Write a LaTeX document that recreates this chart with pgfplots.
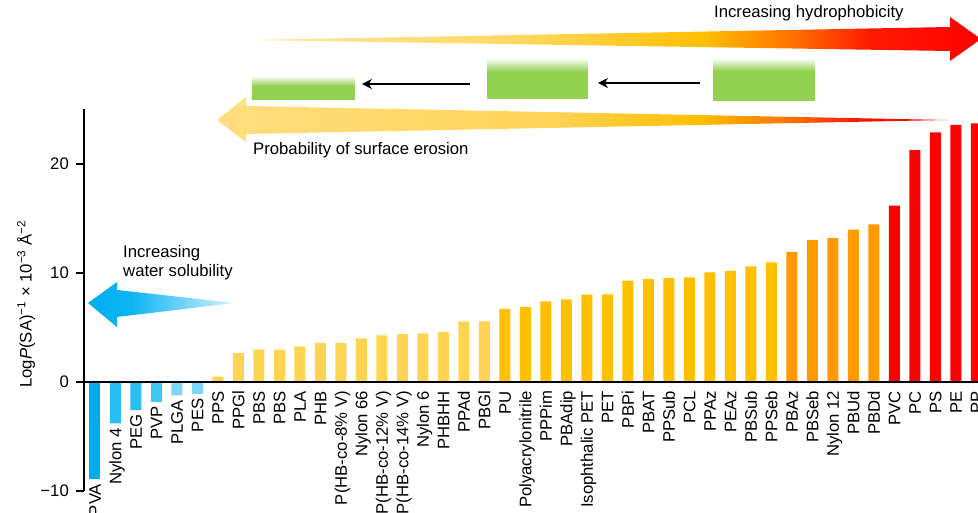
\documentclass[border=0pt]{standalone}
\usepackage{fontspec}
\setmainfont{Liberation Sans}
\usepackage{pgfplots}
\pgfplotsset{compat=1.18}
\usetikzlibrary{arrows.meta}
\definecolor{blueA}{RGB}{0,172,237}
\definecolor{blueB}{RGB}{40,190,241}
\definecolor{blueC}{RGB}{60,199,244}
\definecolor{blueD}{RGB}{125,214,248}
\definecolor{ylight}{RGB}{255,212,82}
\definecolor{gold}{RGB}{255,192,0}
\definecolor{orng}{RGB}{255,153,0}
\definecolor{redd}{RGB}{255,0,0}
\definecolor{grn}{RGB}{146,208,80}
\pgfdeclarehorizontalshading{hydro}{100bp}{rgb(0bp)=(1,0.91,0.62); rgb(25bp)=(1,0.91,0.62); rgb(42.5bp)=(1,0.85,0.40); rgb(56bp)=(1,0.75,0); rgb(62bp)=(1,0.45,0); rgb(67.5bp)=(1,0.1,0); rgb(75bp)=(1,0,0); rgb(100bp)=(1,0,0)}
\pgfdeclarehorizontalshading{erosion}{100bp}{rgb(0bp)=(1,0.87,0.5); rgb(25bp)=(1,0.87,0.5); rgb(47.5bp)=(1,0.83,0.35); rgb(58bp)=(1,0.75,0); rgb(64bp)=(1,0.45,0); rgb(69bp)=(1,0.08,0); rgb(75bp)=(1,0,0); rgb(100bp)=(1,0,0)}
\pgfdeclarehorizontalshading{solub}{100bp}{rgb(0bp)=(0,0.68,0.94); rgb(25bp)=(0,0.68,0.94); rgb(40bp)=(0.05,0.71,0.95); rgb(75bp)=(0.86,0.95,0.99); rgb(100bp)=(0.86,0.95,0.99)}
\newcommand{\myfs}{\fontsize{16.7pt}{18.4pt}\selectfont}
\begin{document}
\begin{tikzpicture}[font=\myfs]
\path[use as bounding box] (0,0) rectangle (978pt,513pt);
\clip (0,0) rectangle (978pt,513pt);
\begin{axis}[
  at={(84pt,22pt)}, anchor=south west, scale only axis,
  width=894pt, height=381.5pt,
  xmin=-0.527, xmax=43.08, ymin=-10, ymax=25,
  axis x line=none, axis y line=left,
  axis line style={-, line width=2.4pt, black},
  ytick={-10,0,10,20}, yticklabels={−10,0,10,20},
  tick align=outside, major tick length=8pt,
  ytick style={line width=2.2pt, black},
  yticklabel style={inner xsep=7pt, font=\myfs, text=black},
  xtick=\empty,
  clip=false,
  ylabel={Log\textit{P}(SA)\textsuperscript{−1} × 10\textsuperscript{−3} Å\textsuperscript{−2}},
  ylabel style={at={(axis description cs:-0.0649,0.49)}, anchor=center, font=\myfs, text=black},
]
\addplot[ybar, bar width=11pt, bar shift=0pt, fill=blueA, draw=none] coordinates {(0,-8.93)};
\addplot[ybar, bar width=11pt, bar shift=0pt, fill=blueB, draw=none] coordinates {(1,-3.80) (2,-2.57)};
\addplot[ybar, bar width=11pt, bar shift=0pt, fill=blueC, draw=none] coordinates {(3,-1.80)};
\addplot[ybar, bar width=11pt, bar shift=0pt, fill=blueD, draw=none] coordinates {(4,-1.22) (5,-1.10)};
\addplot[ybar, bar width=11pt, bar shift=0pt, fill=ylight, draw=none] coordinates {
(6,0.49) (7,2.66) (8,2.97) (9,2.97) (10,3.27) (11,3.56) (12,3.56) (13,4.00)
(14,4.28) (15,4.40) (16,4.46) (17,4.58) (18,5.56) (19,5.56)};
\addplot[ybar, bar width=11pt, bar shift=0pt, fill=gold, draw=none] coordinates {
(20,6.70) (21,6.88) (22,7.40) (23,7.58) (24,8.01) (25,8.03) (26,9.30) (27,9.45)
(28,9.54) (29,9.60) (30,10.06) (31,10.20) (32,10.60) (33,10.98)};
\addplot[ybar, bar width=11pt, bar shift=0pt, fill=orng, draw=none] coordinates {
(34,11.93) (35,13.03) (36,13.20) (37,13.97) (38,14.46)};
\addplot[ybar, bar width=11pt, bar shift=0pt, fill=redd, draw=none] coordinates {
(39,16.18) (40,21.28) (41,22.90) (42,23.60) (43,23.73)};
\draw[line width=2.4pt, black] (axis cs:-0.527,0) -- (axis cs:43.08,0);
\addplot[draw=none, mark=none, nodes near coords, point meta=explicit symbolic,
  nodes near coords style={rotate=90, anchor=east, inner xsep=4.4pt, inner ysep=0pt,
  text height=12pt, text depth=0pt, text=black, font=\myfs}] coordinates {
(0,-8.93) [PVA] (1,-3.80) [Nylon 4] (2,-2.57) [PEG] (3,-1.80) [PVP] (4,-1.22) [PLGA] (5,-1.10) [PES]
(6,-0.4) [PPS] (7,-0.4) [PPGl] (8,-0.4) [PBS] (9,-0.4) [PBS] (10,-0.4) [PLA] (11,-0.4) [PHB]
(12,-0.4) [P(HB-co-8\% V)] (13,-0.4) [Nylon 66] (14,-0.4) [P(HB-co-12\% V)] (15,-0.4) [P(HB-co-14\% V)]
(16,-0.4) [Nylon 6] (17,-0.4) [PHBHH] (18,-0.4) [PPAd] (19,-0.4) [PBGl] (20,-0.4) [PU]
(21,-0.4) [Polyacrylonitrile] (22,-0.4) [PPPim] (23,-0.4) [PBAdip] (24,-0.4) [Isophthalic PET]
(25,-0.4) [PET] (26,-0.4) [PBPi] (27,-0.4) [PBAT] (28,-0.4) [PPSub] (29,-0.4) [PCL] (30,-0.4) [PPAz]
(31,-0.4) [PEAz] (32,-0.4) [PBSub] (33,-0.4) [PPSeb] (34,-0.4) [PBAz] (35,-0.4) [PBSeb]
(36,-0.4) [Nylon 12] (37,-0.4) [PBUd] (38,-0.4) [PBDd] (39,-0.4) [PVC] (40,-0.4) [PC]
(41,-0.4) [PS] (42,-0.4) [PE] (43,-0.4) [PP]};
\end{axis}
\begin{scope}[x=1pt, y=1pt]
\shade[shading=hydro] (250,473) -- (950,486) -- (950,496) -- (981,474) -- (950,452) -- (950,462) -- cycle;
\shade[shading=erosion] (217,393) -- (246,416) -- (246,407) -- (947,393) -- (246,379) -- (246,371) -- cycle;
\shade[shading=solub] (88,210) -- (117,231) -- (117,223) -- (235,210) -- (117,196) -- (117,186) -- cycle;
\fill[grn] (252,413) rectangle (355,427);
\shade[top color=white, bottom color=grn] (252,427) rectangle (355,437);
\fill[grn] (487,414) rectangle (588,441);
\shade[top color=white, bottom color=grn] (487,441) rectangle (588,455);
\fill[grn] (713,412) rectangle (815,442);
\shade[top color=white, bottom color=grn] (713,442) rectangle (815,455);
\draw[line width=2pt, -{Stealth[length=10pt, width=10pt]}] (470,429) -- (362,429);
\draw[line width=2pt, -{Stealth[length=10pt, width=10pt]}] (700,430) -- (598,430);
\node[anchor=base west, inner sep=0pt] at (714,495) {Increasing hydrophobicity};
\node[anchor=base west, inner sep=0pt] at (253,358) {Probability of surface erosion};
\node[anchor=base west, inner sep=0pt] at (123,255) {Increasing};
\node[anchor=base west, inner sep=0pt] at (123,236.3) {water solubility};
\end{scope}
\end{tikzpicture}
\end{document}
